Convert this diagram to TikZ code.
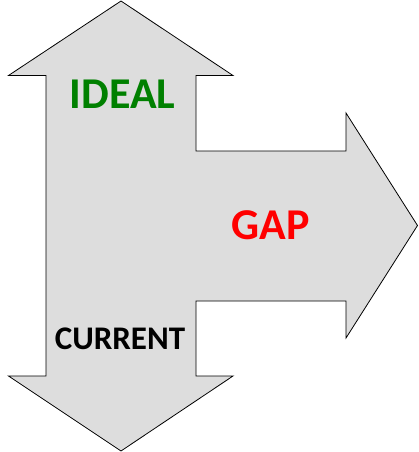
\documentclass[tikz,border=0pt]{standalone}
\usepackage{fontspec}
\setmainfont{Carlito}
\usepackage{tikz}
\definecolor{ddgray}{rgb}{0.867,0.867,0.867}
\definecolor{qqgreen}{rgb}{0.,0.5,0.}
\definecolor{ffqqqq}{rgb}{1.,0.,0.}
\tikzset{label text/.style={font=\bfseries, anchor=base}}

\begin{document}
\begin{tikzpicture}[line cap=round,line join=miter,x=1pt,y=-1pt]
                    \useasboundingbox (0,0) rectangle (418,452);
                    % three-way arrow
                    \draw [line width=0.8pt,fill=ddgray] (121,1) -- (233,75.5) -- (196,75.5) -- (196,151) -- (346,151) -- (346,113) -- (417.5,225.5) -- (346,338) -- (346,301) -- (196,301) -- (196,376) -- (233,376) -- (121,451) -- (8.5,376) -- (46,376) -- (46,75.5) -- (8.5,75.5) -- cycle;
                    \node (ideal) [label text, color=qqgreen, font=\fontsize{44}{44}\bfseries] at (122.5,108) {IDEAL};
                    \node (gap) [label text, color=ffqqqq, font=\fontsize{44}{44}\bfseries] at (270.5,239) {GAP};
                    \node (current) [label text, color=black, font=\fontsize{33}{33}\bfseries] at (120,349) {CURRENT};
                    \end{tikzpicture}
\end{document}
